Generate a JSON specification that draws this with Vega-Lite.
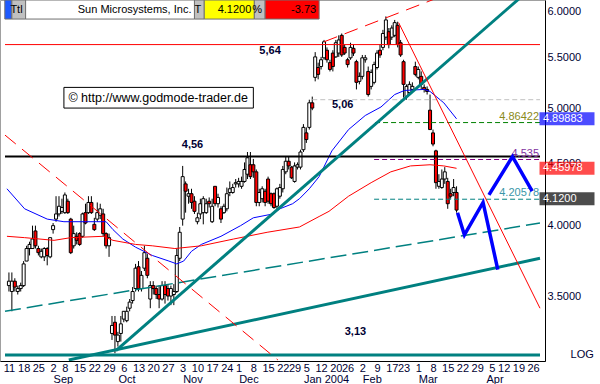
{
 "$schema": "https://vega.github.io/schema/vega-lite/v6.json",
 "width": 545, "height": 361,
 "autosize": {"type": "none"},
 "padding": {"left": 0, "top": 0, "right": 55, "bottom": 23},
 "background": "white",
 "config": {
  "view": {"stroke": "#a0a0a0"},
  "axis": {"labelFont": "Liberation Sans", "labelFontSize": 11, "labelColor": "#000033", "grid": false, "domainColor": "#000000", "domainWidth": 1, "zindex": 0},
  "text": {"font": "Liberation Sans", "fontSize": 11}
 },
 "resolve": {"axis": {"x": "independent", "y": "independent"}, "scale": {"color": "independent", "fill": "independent", "strokeWidth": "independent"}},
 "datasets": {
  "ohlc": [
{"i":1,"o":3.57,"h":3.66,"l":3.53,"c":3.60},
{"i":2,"o":3.53,"h":3.66,"l":3.40,"c":3.60},
{"i":3,"o":3.60,"h":3.62,"l":3.53,"c":3.56},
{"i":4,"o":3.53,"h":3.57,"l":3.51,"c":3.55},
{"i":5,"o":3.55,"h":3.59,"l":3.53,"c":3.57},
{"i":6,"o":3.57,"h":3.74,"l":3.56,"c":3.72},
{"i":7,"o":3.74,"h":3.85,"l":3.74,"c":3.83},
{"i":8,"o":3.83,"h":3.88,"l":3.78,"c":3.86},
{"i":9,"o":3.83,"h":4.00,"l":3.83,"c":3.90},
{"i":10,"o":3.96,"h":4.00,"l":3.83,"c":3.85},
{"i":11,"o":3.83,"h":3.85,"l":3.78,"c":3.80},
{"i":12,"o":3.77,"h":3.83,"l":3.76,"c":3.81},
{"i":13,"o":3.77,"h":3.84,"l":3.74,"c":3.83},
{"i":14,"o":3.83,"h":3.84,"l":3.71,"c":3.78},
{"i":15,"o":3.77,"h":3.91,"l":3.76,"c":3.91},
{"i":16,"o":3.97,"h":4.02,"l":3.94,"c":4.00},
{"i":17,"o":4.05,"h":4.23,"l":4.03,"c":4.09},
{"i":18,"o":4.09,"h":4.23,"l":4.07,"c":4.15},
{"i":19,"o":4.11,"h":4.21,"l":4.09,"c":4.14},
{"i":20,"o":4.10,"h":4.26,"l":4.09,"c":4.24},
{"i":21,"o":4.19,"h":4.21,"l":4.09,"c":4.10},
{"i":22,"o":4.05,"h":4.06,"l":3.79,"c":3.80},
{"i":23,"o":3.85,"h":4.00,"l":3.83,"c":3.94},
{"i":24,"o":3.92,"h":3.95,"l":3.86,"c":3.89},
{"i":25,"o":3.94,"h":3.95,"l":3.85,"c":3.86},
{"i":26,"o":3.92,"h":4.10,"l":3.91,"c":4.09},
{"i":27,"o":4.10,"h":4.17,"l":4.01,"c":4.02},
{"i":28,"o":4.10,"h":4.23,"l":4.09,"c":4.18},
{"i":29,"o":4.18,"h":4.23,"l":4.09,"c":4.10},
{"i":30,"o":4.01,"h":4.06,"l":3.96,"c":3.97},
{"i":31,"o":4.05,"h":4.18,"l":4.03,"c":4.10},
{"i":32,"o":4.08,"h":4.17,"l":4.05,"c":4.13},
{"i":33,"o":4.09,"h":4.13,"l":3.92,"c":3.94},
{"i":34,"o":3.94,"h":3.95,"l":3.83,"c":3.85},
{"i":35,"o":3.85,"h":3.94,"l":3.77,"c":3.91},
{"i":36,"o":3.26,"h":3.37,"l":3.22,"c":3.31},
{"i":37,"o":3.33,"h":3.37,"l":3.14,"c":3.25},
{"i":38,"o":3.21,"h":3.27,"l":3.18,"c":3.25},
{"i":39,"o":3.26,"h":3.37,"l":3.21,"c":3.32},
{"i":40,"o":3.35,"h":3.40,"l":3.33,"c":3.40},
{"i":41,"o":3.34,"h":3.43,"l":3.33,"c":3.40},
{"i":42,"o":3.42,"h":3.48,"l":3.40,"c":3.46},
{"i":43,"o":3.47,"h":3.56,"l":3.45,"c":3.53},
{"i":44,"o":3.55,"h":3.72,"l":3.53,"c":3.69},
{"i":45,"o":3.70,"h":3.74,"l":3.53,"c":3.55},
{"i":46,"o":3.55,"h":3.67,"l":3.53,"c":3.64},
{"i":47,"o":3.69,"h":3.85,"l":3.67,"c":3.80},
{"i":48,"o":3.76,"h":3.79,"l":3.62,"c":3.64},
{"i":49,"o":3.48,"h":3.60,"l":3.42,"c":3.57},
{"i":50,"o":3.57,"h":3.60,"l":3.51,"c":3.55},
{"i":51,"o":3.55,"h":3.57,"l":3.48,"c":3.51},
{"i":52,"o":3.51,"h":3.57,"l":3.42,"c":3.48},
{"i":53,"o":3.48,"h":3.60,"l":3.47,"c":3.57},
{"i":54,"o":3.57,"h":3.60,"l":3.45,"c":3.51},
{"i":55,"o":3.55,"h":3.58,"l":3.47,"c":3.50},
{"i":56,"o":3.50,"h":3.57,"l":3.44,"c":3.55},
{"i":57,"o":3.51,"h":3.58,"l":3.44,"c":3.53},
{"i":58,"o":3.53,"h":3.83,"l":3.52,"c":3.78},
{"i":59,"o":3.76,"h":3.99,"l":3.74,"c":3.95},
{"i":60,"o":4.05,"h":4.48,"l":4.00,"c":4.39},
{"i":61,"o":4.33,"h":4.35,"l":4.10,"c":4.27},
{"i":62,"o":4.23,"h":4.29,"l":4.17,"c":4.25},
{"i":63,"o":4.25,"h":4.29,"l":4.13,"c":4.18},
{"i":64,"o":4.19,"h":4.23,"l":4.09,"c":4.11},
{"i":65,"o":4.03,"h":4.10,"l":4.01,"c":4.06},
{"i":66,"o":4.09,"h":4.21,"l":4.05,"c":4.17},
{"i":67,"o":4.10,"h":4.23,"l":4.01,"c":4.21},
{"i":68,"o":4.10,"h":4.21,"l":4.09,"c":4.17},
{"i":69,"o":4.19,"h":4.22,"l":4.14,"c":4.17},
{"i":70,"o":4.03,"h":4.21,"l":4.02,"c":4.15},
{"i":71,"o":4.31,"h":4.31,"l":4.15,"c":4.17},
{"i":72,"o":4.17,"h":4.25,"l":4.14,"c":4.22},
{"i":73,"o":4.13,"h":4.15,"l":4.02,"c":4.05},
{"i":74,"o":4.10,"h":4.17,"l":4.09,"c":4.15},
{"i":75,"o":4.13,"h":4.30,"l":4.11,"c":4.25},
{"i":76,"o":4.26,"h":4.35,"l":4.23,"c":4.29},
{"i":77,"o":4.26,"h":4.33,"l":4.25,"c":4.30},
{"i":78,"o":4.33,"h":4.37,"l":4.30,"c":4.34},
{"i":79,"o":4.33,"h":4.38,"l":4.30,"c":4.35},
{"i":80,"o":4.31,"h":4.39,"l":4.29,"c":4.35},
{"i":81,"o":4.35,"h":4.51,"l":4.34,"c":4.45},
{"i":82,"o":4.41,"h":4.60,"l":4.37,"c":4.55},
{"i":83,"o":4.49,"h":4.60,"l":4.37,"c":4.39},
{"i":84,"o":4.49,"h":4.54,"l":4.38,"c":4.43},
{"i":85,"o":4.43,"h":4.45,"l":4.15,"c":4.18},
{"i":86,"o":4.18,"h":4.29,"l":4.15,"c":4.26},
{"i":87,"o":4.21,"h":4.31,"l":4.18,"c":4.29},
{"i":88,"o":4.27,"h":4.29,"l":4.15,"c":4.18},
{"i":89,"o":4.37,"h":4.39,"l":4.17,"c":4.19},
{"i":90,"o":4.25,"h":4.26,"l":4.15,"c":4.17},
{"i":91,"o":4.25,"h":4.26,"l":4.13,"c":4.14},
{"i":92,"o":4.15,"h":4.30,"l":4.13,"c":4.29},
{"i":93,"o":4.23,"h":4.33,"l":4.21,"c":4.30},
{"i":94,"o":4.29,"h":4.48,"l":4.26,"c":4.45},
{"i":95,"o":4.43,"h":4.56,"l":4.41,"c":4.52},
{"i":96,"o":4.52,"h":4.56,"l":4.45,"c":4.48},
{"i":97,"o":4.47,"h":4.48,"l":4.37,"c":4.38},
{"i":98,"o":4.35,"h":4.51,"l":4.34,"c":4.48},
{"i":99,"o":4.47,"h":4.51,"l":4.45,"c":4.49},
{"i":100,"o":4.47,"h":4.62,"l":4.45,"c":4.60},
{"i":101,"o":4.62,"h":4.85,"l":4.60,"c":4.82},
{"i":102,"o":4.77,"h":4.82,"l":4.68,"c":4.71},
{"i":103,"o":4.82,"h":5.08,"l":4.80,"c":5.05},
{"i":104,"o":5.05,"h":5.11,"l":4.98,"c":5.00},
{"i":105,"o":5.30,"h":5.56,"l":5.26,"c":5.51},
{"i":106,"o":5.40,"h":5.45,"l":5.28,"c":5.33},
{"i":107,"o":5.41,"h":5.51,"l":5.38,"c":5.48},
{"i":108,"o":5.50,"h":5.69,"l":5.48,"c":5.67},
{"i":109,"o":5.58,"h":5.61,"l":5.45,"c":5.48},
{"i":110,"o":5.45,"h":5.48,"l":5.36,"c":5.38},
{"i":111,"o":5.55,"h":5.58,"l":5.36,"c":5.41},
{"i":112,"o":5.51,"h":5.69,"l":5.50,"c":5.66},
{"i":113,"o":5.55,"h":5.74,"l":5.51,"c":5.69},
{"i":114,"o":5.74,"h":5.76,"l":5.51,"c":5.53},
{"i":115,"o":5.61,"h":5.64,"l":5.53,"c":5.55},
{"i":116,"o":5.48,"h":5.50,"l":5.40,"c":5.43},
{"i":117,"o":5.50,"h":5.66,"l":5.48,"c":5.61},
{"i":118,"o":5.60,"h":5.64,"l":5.52,"c":5.55},
{"i":119,"o":5.46,"h":5.48,"l":5.18,"c":5.25},
{"i":120,"o":5.26,"h":5.35,"l":5.23,"c":5.31},
{"i":121,"o":5.31,"h":5.53,"l":5.28,"c":5.50},
{"i":122,"o":5.48,"h":5.53,"l":5.45,"c":5.50},
{"i":123,"o":5.36,"h":5.41,"l":5.11,"c":5.13},
{"i":124,"o":5.21,"h":5.38,"l":5.18,"c":5.35},
{"i":125,"o":5.25,"h":5.46,"l":5.23,"c":5.43},
{"i":126,"o":5.40,"h":5.58,"l":5.38,"c":5.55},
{"i":127,"o":5.58,"h":5.64,"l":5.50,"c":5.53},
{"i":128,"o":5.61,"h":5.80,"l":5.58,"c":5.76},
{"i":129,"o":5.72,"h":5.95,"l":5.69,"c":5.91},
{"i":130,"o":5.78,"h":5.82,"l":5.60,"c":5.64},
{"i":131,"o":5.72,"h":5.85,"l":5.69,"c":5.82},
{"i":132,"o":5.74,"h":5.91,"l":5.72,"c":5.88},
{"i":133,"o":5.85,"h":5.89,"l":5.61,"c":5.64},
{"i":134,"o":5.66,"h":5.69,"l":5.51,"c":5.53},
{"i":135,"o":5.46,"h":5.48,"l":5.10,"c":5.23},
{"i":136,"o":5.11,"h":5.23,"l":5.08,"c":5.21},
{"i":137,"o":5.15,"h":5.26,"l":5.13,"c":5.23},
{"i":138,"o":5.18,"h":5.25,"l":5.16,"c":5.21},
{"i":139,"o":5.41,"h":5.46,"l":5.31,"c":5.33},
{"i":140,"o":5.30,"h":5.41,"l":5.28,"c":5.38},
{"i":141,"o":5.31,"h":5.36,"l":5.18,"c":5.23},
{"i":142,"o":5.20,"h":5.23,"l":5.15,"c":5.18},
{"i":143,"o":5.18,"h":5.21,"l":5.13,"c":5.16},
{"i":144,"o":4.98,"h":5.13,"l":4.80,"c":4.80},
{"i":145,"o":4.77,"h":4.80,"l":4.65,"c":4.67},
{"i":146,"o":4.61,"h":4.62,"l":4.29,"c":4.34},
{"i":147,"o":4.31,"h":4.41,"l":4.29,"c":4.35},
{"i":148,"o":4.30,"h":4.45,"l":4.29,"c":4.37},
{"i":149,"o":4.37,"h":4.47,"l":4.33,"c":4.43},
{"i":150,"o":4.35,"h":4.38,"l":4.13,"c":4.17},
{"i":151,"o":4.25,"h":4.29,"l":4.21,"c":4.23},
{"i":152,"o":4.26,"h":4.37,"l":4.23,"c":4.30},
{"i":153,"o":4.26,"h":4.31,"l":4.10,"c":4.12}
  ],
  "ma": [
{"s":"b","i":0.33,"v":4.29},{"s":"b","i":6.33,"v":4.13},{"s":"b","i":14,"v":4.05},{"s":"b","i":19.67,"v":4.03},{"s":"b","i":30.67,"v":4.03},{"s":"b","i":34,"v":4.03},{"s":"b","i":36.33,"v":3.97},{"s":"b","i":39.67,"v":3.90},{"s":"b","i":44,"v":3.84},{"s":"b","i":49.67,"v":3.78},{"s":"b","i":55.33,"v":3.74},{"s":"b","i":58,"v":3.72},{"s":"b","i":60.33,"v":3.74},{"s":"b","i":63,"v":3.81},{"s":"b","i":66.33,"v":3.86},{"s":"b","i":73,"v":3.92},{"s":"b","i":79.67,"v":4.00},{"s":"b","i":84,"v":4.06},{"s":"b","i":90.67,"v":4.09},{"s":"b","i":93,"v":4.13},{"s":"b","i":97.33,"v":4.17},{"s":"b","i":99.67,"v":4.21},{"s":"b","i":103,"v":4.29},{"s":"b","i":106.33,"v":4.39},{"s":"b","i":110.67,"v":4.61},{"s":"b","i":116.33,"v":4.80},{"s":"b","i":122,"v":4.93},{"s":"b","i":127.33,"v":5.01},{"s":"b","i":132,"v":5.13},{"s":"b","i":135.33,"v":5.17},{"s":"b","i":142,"v":5.18},{"s":"b","i":144,"v":5.16},{"s":"b","i":148.67,"v":5.05},{"s":"b","i":153,"v":4.89883},
{"s":"r","i":0.33,"v":3.92},{"s":"r","i":6.33,"v":3.91},{"s":"r","i":16.33,"v":3.89},{"s":"r","i":22,"v":3.91},{"s":"r","i":33,"v":3.92},{"s":"r","i":36.33,"v":3.89},{"s":"r","i":44,"v":3.86},{"s":"r","i":49.67,"v":3.85},{"s":"r","i":57.33,"v":3.83},{"s":"r","i":66.33,"v":3.85},{"s":"r","i":77.33,"v":3.90},{"s":"r","i":88.67,"v":3.95},{"s":"r","i":99.67,"v":3.99},{"s":"r","i":106.33,"v":4.07},{"s":"r","i":109.67,"v":4.11},{"s":"r","i":116.33,"v":4.23},{"s":"r","i":124,"v":4.34},{"s":"r","i":130.67,"v":4.43},{"s":"r","i":137.33,"v":4.48},{"s":"r","i":144,"v":4.49},{"s":"r","i":148.67,"v":4.48},{"s":"r","i":153,"v":4.45978}
  ],
  "trend": [
{"id":"up","i":37.33,"v":3.156},{"id":"up","i":181.33,"v":6.37},
{"id":"low","i":21.33,"v":3.10},{"id":"low","i":181.33,"v":3.76},
{"id":"td","i":-0.33,"v":3.40},{"id":"td","i":181.33,"v":4.02},
{"id":"rdown","i":133.33,"v":5.88},{"id":"rdown","i":181.33,"v":3.42},
{"id":"rd1","i":108,"v":5.67},{"id":"rd1","i":146.33,"v":6.16},
{"id":"rd2","i":-0.33,"v":4.75},{"id":"rd2","i":92.33,"v":3.10}
  ],
  "proj": [
{"seg":"p1","i":153.33,"v":4.10},{"seg":"p1","i":155.67,"v":3.93},{"seg":"p1","i":162,"v":4.18},{"seg":"p1","i":167,"v":3.68},
{"seg":"p2","i":164,"v":4.24},{"seg":"p2","i":172,"v":4.56},{"seg":"p2","i":178.67,"v":4.27}
  ],
  "lev": [{"k":"r","v":5.64},{"k":"k","v":4.56},{"k":"t","v":3.13}],
  "dlev": [
{"k":"gray","v":5.08,"f":104,"t":""},
{"k":"green","v":4.86422,"f":125.33,"t":"4.86422"},
{"k":"purple","v":4.535,"f":125,"t":"4.535"},
{"k":"teal","v":4.20578,"f":125,"t":"4.20578"}
  ],
  "notes": [
{"t":"5,64","i":89.67,"v":5.57},
{"t":"4,56","i":63.33,"v":4.66},
{"t":"5,06","i":114.33,"v":5.03},
{"t":"3,13","i":118.67,"v":3.27}
  ],
  "badges": [
{"k":"b","at":4.89883,"t":"4.89883"},
{"k":"r","at":4.45978,"t":"4.45978"},
{"k":"k","at":4.21,"t":"4.1200"}
  ],
  "hdr": [
{"k":"b","a":-0.4,"z":2,"t":""},
{"k":"g1","a":2,"z":6.67,"t":"Ttl"},
{"k":"w","a":6.67,"z":64,"t":"Sun Microsystems, Inc."},
{"k":"g2","a":64,"z":67.33,"t":"T"},
{"k":"y","a":67.33,"z":84.33,"t":"4.1200"},
{"k":"g3","a":84.33,"z":88,"t":"%"},
{"k":"r","a":88,"z":106.33,"t":"-3.73"}
  ]
 },
 "layer": [
  {
   "data": {"name": "ohlc"},
   "mark": {"type": "rule", "color": "#000000", "strokeWidth": 1},
   "encoding": {
    "x": {"field": "i", "type": "quantitative", "axis": null, "scale": {"domain": [-0.333, 181.333], "nice": false, "zero": false}},
    "y": {"field": "l", "type": "quantitative", "scale": {"type": "log", "domain": [3.094, 6.138], "nice": false},
      "axis": {"orient": "right", "title": null, "zindex": 0, "values": [3.5, 4, 4.5, 5, 5.5, 6], "format": ".4f", "ticks": false, "labelPadding": 2, "labelFlush": false, "labelOverlap": false, "labelAlign": "left", "labelBaseline": "middle"}},
    "y2": {"field": "h"}
   }
  },
  {
   "data": {"name": "ohlc"},
   "mark": {"type": "bar", "size": 3, "stroke": "#000000", "strokeWidth": 1},
   "encoding": {
    "x": {"field": "i", "type": "quantitative", "axis": {"orient": "bottom", "title": null, "zindex": 0, "ticks": false, "labelPadding": 1, "labelFlush": false, "labelOverlap": false,
      "values": [1,6,11,16,20,25,30,35,40,45,50,55,60,65,70,75,79,84,89,94,98,102,107,112,116,121,126,131,135,140,145,150,155,160,165,169,174,179],
      "labelExpr": "['11','18','25','2','8','15','22','29','6','13','20','27','3','10','17','24','1','8','15','22','29','5','12','20','26','2','9','17','23','1','8','15','22','29','5','12','19','26'][indexof([1,6,11,16,20,25,30,35,40,45,50,55,60,65,70,75,79,84,89,94,98,102,107,112,116,121,126,131,135,140,145,150,155,160,165,169,174,179], datum.value)]"}},
    "y": {"field": "o", "type": "quantitative", "axis": null},
    "y2": {"field": "c"},
    "fill": {"condition": {"test": "datum.c < datum.o", "value": "#ff0000"}, "value": "#ffffff"}
   }
  },
  {
   "data": {"name": "ma"},
   "mark": {"type": "line", "strokeWidth": 1, "clip": true},
   "encoding": {
    "x": {"field": "i", "type": "quantitative", "axis": {"orient": "bottom", "title": null, "zindex": 0, "ticks": false, "domain": false, "labelPadding": 12, "labelFlush": false, "labelOverlap": false, "labelAlign": "left",
      "values": [16,38,60,79,101,121,140,163],
      "labelExpr": "['Sep','Oct','Nov','Dec','Jan 2004','Feb','Mar','Apr'][indexof([16,38,60,79,101,121,140,163], datum.value)]"}},
    "y": {"field": "v", "type": "quantitative", "axis": null},
    "color": {"field": "s", "type": "nominal", "scale": {"domain": ["b", "r"], "range": ["#0000ff", "#ff0000"]}, "legend": null}
   }
  },
  {
   "data": {"name": "lev"},
   "mark": {"type": "rule"},
   "encoding": {
    "x": {"datum": -0.333, "type": "quantitative", "axis": null},
    "x2": {"datum": 181.333},
    "y": {"field": "v", "type": "quantitative", "axis": null},
    "color": {"field": "k", "type": "nominal", "scale": {"domain": ["r", "k", "t"], "range": ["#ff0000", "#000000", "#008080"]}, "legend": null},
    "strokeWidth": {"field": "k", "type": "nominal", "scale": {"domain": ["r", "k", "t"], "range": [1, 3, 2.5]}, "legend": null}
   }
  },
  {
   "data": {"name": "dlev"},
   "mark": {"type": "rule", "strokeDash": [5, 3], "strokeWidth": 1},
   "encoding": {
    "x": {"field": "f", "type": "quantitative", "axis": null},
    "x2": {"datum": 181.333},
    "y": {"field": "v", "type": "quantitative", "axis": null},
    "color": {"field": "k", "type": "nominal", "scale": {"domain": ["gray", "green", "purple", "teal"], "range": ["#c0c0c0", "#008000", "#800080", "#008080"]}, "legend": null}
   }
  },
  {
   "data": {"name": "dlev"},
   "transform": [{"filter": "datum.t != ''"}],
   "mark": {"type": "text", "align": "right", "baseline": "bottom", "dy": -1, "fontSize": 11},
   "encoding": {
    "x": {"datum": 181, "type": "quantitative", "axis": null},
    "y": {"field": "v", "type": "quantitative", "axis": null},
    "text": {"field": "t"},
    "color": {"field": "k", "type": "nominal", "scale": {"domain": ["green", "purple", "teal"], "range": ["#8a8a1a", "#8030a0", "#3a96a8"]}, "legend": null}
   }
  },
  {
   "data": {"name": "trend"},
   "transform": [{"filter": "datum.id == 'up' || datum.id == 'low'"}],
   "mark": {"type": "line", "color": "#008080", "strokeWidth": 3, "clip": true},
   "encoding": {
    "x": {"field": "i", "type": "quantitative", "axis": null},
    "y": {"field": "v", "type": "quantitative", "axis": null},
    "detail": {"field": "id"}
   }
  },
  {
   "data": {"name": "trend"},
   "transform": [{"filter": "datum.id == 'td'"}],
   "mark": {"type": "line", "color": "#008080", "strokeWidth": 1.5, "strokeDash": [16, 6], "clip": true},
   "encoding": {
    "x": {"field": "i", "type": "quantitative", "axis": null},
    "y": {"field": "v", "type": "quantitative", "axis": null}
   }
  },
  {
   "data": {"name": "trend"},
   "transform": [{"filter": "datum.id == 'rdown'"}],
   "mark": {"type": "line", "color": "#ff0000", "strokeWidth": 1, "clip": true},
   "encoding": {
    "x": {"field": "i", "type": "quantitative", "axis": null},
    "y": {"field": "v", "type": "quantitative", "axis": null}
   }
  },
  {
   "data": {"name": "trend"},
   "transform": [{"filter": "datum.id == 'rd1' || datum.id == 'rd2'"}],
   "mark": {"type": "line", "color": "#ff0000", "strokeWidth": 1, "strokeDash": [14, 8], "clip": true},
   "encoding": {
    "x": {"field": "i", "type": "quantitative", "axis": null},
    "y": {"field": "v", "type": "quantitative", "axis": null},
    "detail": {"field": "id"}
   }
  },
  {
   "data": {"name": "proj"},
   "mark": {"type": "line", "color": "#0000ff", "strokeWidth": 3.5},
   "encoding": {
    "x": {"field": "i", "type": "quantitative", "axis": null},
    "y": {"field": "v", "type": "quantitative", "axis": null},
    "detail": {"field": "seg"}
   }
  },
  {
   "data": {"name": "notes"},
   "mark": {"type": "text", "fontWeight": "bold", "fontSize": 11, "color": "#000033", "align": "center", "baseline": "middle"},
   "encoding": {
    "x": {"field": "i", "type": "quantitative", "axis": null},
    "y": {"field": "v", "type": "quantitative", "axis": null},
    "text": {"field": "t"}
   }
  },
  {
   "data": {"values": [{"t": "© http://www.godmode-trader.de"}]},
   "mark": {"type": "rect", "fill": "#ffffff", "stroke": "#000000", "strokeWidth": 1},
   "encoding": {
    "x": {"datum": 19.67, "type": "quantitative", "axis": null},
    "x2": {"datum": 84},
    "y": {"datum": 5.20, "type": "quantitative", "axis": null},
    "y2": {"datum": 5.00}
   }
  },
  {
   "data": {"values": [{"t": "© http://www.godmode-trader.de"}]},
   "mark": {"type": "text", "fontSize": 12.5, "color": "#000000", "align": "center", "baseline": "middle"},
   "encoding": {
    "x": {"datum": 51.67, "type": "quantitative", "axis": null},
    "y": {"datum": 5.10, "type": "quantitative", "axis": null},
    "text": {"field": "t"}
   }
  },
  {
   "data": {"name": "badges"},
   "mark": {"type": "tick", "orient": "horizontal", "size": 55, "thickness": 13},
   "encoding": {
    "x": {"datum": 190.5, "type": "quantitative", "axis": null},
    "y": {"field": "at", "type": "quantitative", "axis": null},
    "color": {"field": "k", "type": "nominal", "scale": {"domain": ["b", "r", "k"], "range": ["#0000ff", "#ff0000", "#000000"]}, "legend": null}
   }
  },
  {
   "data": {"name": "badges"},
   "mark": {"type": "text", "align": "left", "baseline": "middle", "color": "#ffffff", "fontSize": 11},
   "encoding": {
    "x": {"datum": 182.33, "type": "quantitative", "axis": null},
    "y": {"field": "at", "type": "quantitative", "axis": null},
    "text": {"field": "t"}
   }
  },
  {
   "data": {"values": [{"t": "LOG"}]},
   "mark": {"type": "text", "align": "center", "baseline": "middle", "color": "#000033", "fontSize": 11},
   "encoding": {
    "x": {"datum": 195.67, "type": "quantitative", "axis": null},
    "y": {"datum": 3.13, "type": "quantitative", "axis": null},
    "text": {"field": "t"}
   }
  },
  {
   "data": {"name": "hdr"},
   "mark": {"type": "rect", "stroke": "#707070", "strokeWidth": 1},
   "encoding": {
    "x": {"field": "a", "type": "quantitative", "axis": null},
    "x2": {"field": "z"},
    "y": {"datum": 6.138, "type": "quantitative", "axis": null},
    "y2": {"datum": 5.92},
    "fill": {"field": "k", "type": "nominal", "scale": {"domain": ["b", "g1", "w", "g2", "y", "g3", "r"], "range": ["#1e5aff", "#c0c0c0", "#ffffff", "#c0c0c0", "#ffff00", "#c0c0c0", "#ff0000"]}, "legend": null}
   }
  },
  {
   "data": {"name": "hdr"},
   "mark": {"type": "text", "align": "right", "baseline": "middle", "dx": -3, "color": "#000000", "fontSize": 11},
   "encoding": {
    "x": {"field": "z", "type": "quantitative", "axis": null},
    "y": {"datum": 6.02, "type": "quantitative", "axis": null},
    "text": {"field": "t"}
   }
  }
 ]
}
